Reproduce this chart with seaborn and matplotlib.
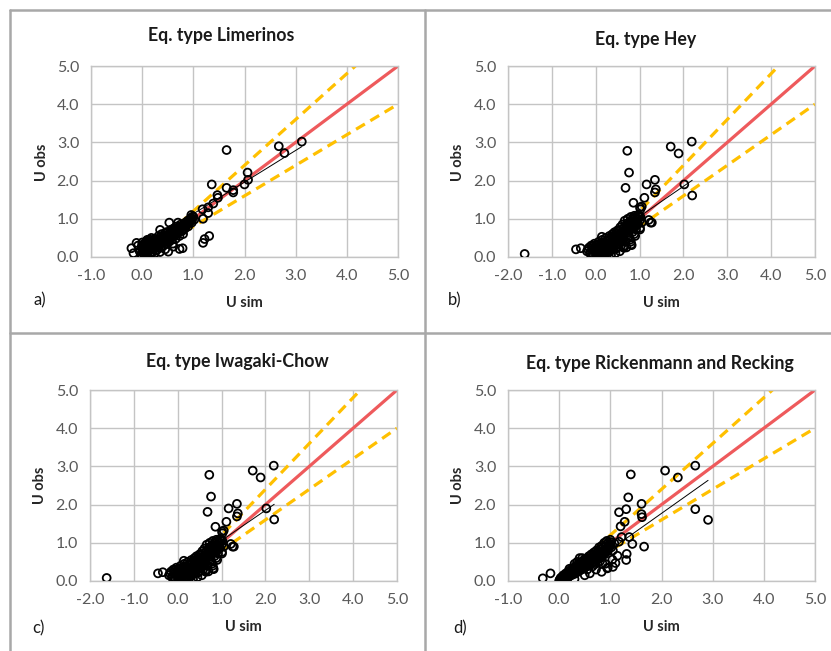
import numpy as np
import pandas as pd
import matplotlib
matplotlib.use("Agg")
import matplotlib.pyplot as plt
from matplotlib.lines import Line2D
import seaborn as sns

sns.set_theme(style="white")
plt.rcParams['font.family'] = ['Lato', 'DejaVu Sans']

# ---------------- data ----------------
titles = ["Eq. type Limerinos", "Eq. type Hey", "Eq. type Iwagaki-Chow",
          "Eq. type Rickenmann and Recking"]
panel_letters = ["a)", "b)", "c)", "d)"]
x_mins = [-1, -2, -2, -1]
x_ticks_a = [-1.0, 0.0, 1.0, 2.0, 3.0, 4.0, 5.0]
x_ticks_b = [-2.0, -1.0, 0.0, 1.0, 2.0, 3.0, 4.0, 5.0]
y_ticks = [0.0, 1.0, 2.0, 3.0, 4.0, 5.0]

# Panel a (Limerinos)
a_sim = [1.65, 2.67, 2.78, 3.12, 2.06, 2.07, 2.00, 1.36, 1.65, 1.78, 1.78, 1.47, 1.48, 1.39, 1.29,
         1.18, 1.29, 1.19, 1.31, 1.22, 1.19, 0.99, 0.96, 0.53, 0.70, 0.79, 0.73, 0.51, 0.35, 0.61,
         -0.21, -0.11, -0.17, 0.35,
         0.00, 0.02, 0.03, 0.05, 0.05, 0.07, 0.08, 0.10, 0.10, 0.12, 0.13, 0.15, 0.15, 0.17, 0.18,
         0.20, 0.20, 0.22, 0.24, 0.25, 0.26, 0.28, 0.30, 0.30, 0.32, 0.33, 0.35, 0.36, 0.38, 0.40,
         0.40, 0.42, 0.44, 0.45, 0.47, 0.48, 0.50, 0.52, 0.53, 0.55, 0.56, 0.58, 0.60, 0.62, 0.63,
         0.65, 0.66, 0.68, 0.70, 0.72, 0.73, 0.75, 0.77, 0.78, 0.80, 0.82, 0.84, 0.86, 0.88, 0.90,
         0.92, 0.95, 0.97, 1.00, 1.02, -0.05, -0.08, -0.02, 0.08, 0.25, 0.45, 0.60, 0.18, 0.10,
         0.04, 0.12, 0.22, 0.34, 0.46, 0.57, 0.67, 0.74, 0.83, 0.91, 0.14, 0.27, 0.38, 0.50]
a_obs = [2.80, 2.90, 2.72, 3.02, 2.21, 2.02, 1.90, 1.90, 1.81, 1.75, 1.69, 1.62, 1.55, 1.40, 1.30,
         1.25, 1.15, 1.00, 0.55, 0.47, 0.37, 1.06, 1.10, 0.90, 0.90, 0.23, 0.21, 0.14, 0.13, 0.27,
         0.23, 0.37, 0.10, 0.71,
         0.02, 0.10, 0.25, 0.05, 0.35, 0.18, 0.30, 0.08, 0.22, 0.40, 0.15, 0.28, 0.05, 0.35, 0.20,
         0.12, 0.42, 0.30, 0.22, 0.48, 0.36, 0.18, 0.40, 0.28, 0.55, 0.33, 0.45, 0.25, 0.60, 0.38,
         0.50, 0.30, 0.55, 0.42, 0.65, 0.35, 0.50, 0.60, 0.40, 0.70, 0.52, 0.45, 0.62, 0.75, 0.55,
         0.68, 0.48, 0.80, 0.62, 0.72, 0.55, 0.85, 0.68, 0.78, 0.60, 0.88, 0.75, 0.82, 0.92, 0.80,
         0.95, 1.02, 0.90, 1.05, 0.98, 0.15, 0.30, 0.05, 0.00, 0.10, 0.20, 0.35, 0.50, 0.45,
         0.15, 0.25, 0.35, 0.45, 0.52, 0.63, 0.70, 0.77, 0.82, 0.90, 0.30, 0.40, 0.48, 0.58]
a_sim_more = [0.01, 0.06, 0.09, 0.11, 0.14, 0.16, 0.19, 0.21, 0.23, 0.27, 0.29, 0.31, 0.34, 0.37,
              0.39, 0.41, 0.43, 0.46, 0.49, 0.51, 0.54, 0.57, 0.59, 0.61, 0.64, 0.67, 0.69, 0.71,
              0.74, 0.76, 0.79, 0.81, 0.83, 0.85, 0.87, 0.89, 0.91, 0.93, 0.96, 0.98, 0.03, 0.07,
              0.13, 0.24, 0.30, 0.36, 0.44, 0.52, 0.58, 0.66, 0.72, 0.80, -0.01, 0.00, 0.09, 0.16]
a_obs_more = [0.18, 0.28, 0.12, 0.32, 0.22, 0.10, 0.30, 0.25, 0.38, 0.28, 0.45, 0.35, 0.30, 0.42,
              0.48, 0.44, 0.38, 0.50, 0.45, 0.55, 0.50, 0.58, 0.55, 0.68, 0.62, 0.70, 0.66, 0.78,
              0.74, 0.80, 0.72, 0.82, 0.80, 0.90, 0.86, 0.95, 0.88, 0.98, 0.95, 1.00, 0.08, 0.40,
              0.30, 0.42, 0.20, 0.52, 0.62, 0.45, 0.72, 0.58, 0.65, 0.70, 0.28, 0.38, 0.42, 0.45]

# Panel b (Hey) and c (Iwagaki-Chow)
b_sim = [-1.62, -0.45, -0.34, 0.72, 0.76, 0.68, 0.86, 1.05, 1.02, 1.11, 1.16, 1.35, 1.37, 1.35,
         1.71, 1.89, 2.19, 2.02, 2.20, 1.25, 1.21, 1.01, 0.81, 0.64, 0.14, 1.01, 1.28, 1.01, 0.82,
         0.63,
         -0.20, -0.15, -0.12, -0.10, -0.08, -0.05, -0.03, 0.00, 0.00, 0.02, 0.04, 0.05, 0.07, 0.08,
         0.10, 0.12, 0.13, 0.15, 0.16, 0.18, 0.20, 0.21, 0.23, 0.25, 0.26, 0.28, 0.30, 0.31, 0.33,
         0.35, 0.36, 0.38, 0.40, 0.41, 0.43, 0.45, 0.46, 0.48, 0.50, 0.51, 0.53, 0.55, 0.56, 0.58,
         0.60, 0.61, 0.63, 0.65, 0.66, 0.68, 0.70, 0.71, 0.73, 0.75, 0.76, 0.78, 0.80, 0.82, 0.84,
         0.86, 0.88, 0.90, 0.92, 0.94, 0.97, 1.00, 0.55, 0.45, 0.35, 0.25, 0.70, 0.80, 0.90,
         -0.02, 0.06, 0.11, 0.19, 0.27, 0.33, 0.42, 0.52, 0.59, 0.67, 0.74, 0.83, 0.95, 0.98]
b_obs = [0.08, 0.20, 0.23, 2.78, 2.21, 1.81, 1.42, 1.32, 1.25, 1.55, 1.90, 2.02, 1.77, 1.69,
         2.89, 2.71, 3.02, 1.90, 1.61, 0.90, 0.97, 0.72, 0.33, 0.24, 0.53, 1.30, 0.90, 0.76, 0.31,
         0.27,
         0.15, 0.25, 0.08, 0.30, 0.18, 0.05, 0.35, 0.12, 0.25, 0.02, 0.30, 0.15, 0.40, 0.08,
         0.22, 0.32, 0.05, 0.45, 0.15, 0.28, 0.10, 0.38, 0.50, 0.20, 0.32, 0.12, 0.45, 0.55, 0.25,
         0.38, 0.18, 0.60, 0.30, 0.48, 0.65, 0.40, 0.22, 0.55, 0.70, 0.35, 0.60, 0.48, 0.78, 0.30,
         0.65, 0.85, 0.52, 0.75, 0.95, 0.40, 0.62, 0.88, 1.00, 0.72, 0.55, 0.92, 1.05, 0.80, 0.65,
         0.98, 1.08, 0.85, 0.72, 1.00, 1.10, 0.95, 0.15, 0.10, 0.05, 0.02, 0.25, 0.40, 0.55,
         0.20, 0.10, 0.28, 0.22, 0.25, 0.35, 0.45, 0.45, 0.58, 0.68, 0.80, 0.88, 0.88, 1.05]
b_sim_more = [-0.18, -0.13, -0.07, -0.01, 0.01, 0.03, 0.06, 0.09, 0.11, 0.14, 0.17, 0.19, 0.22,
              0.24, 0.27, 0.29, 0.32, 0.34, 0.37, 0.39, 0.42, 0.44, 0.47, 0.49, 0.52, 0.54, 0.57,
              0.59, 0.62, 0.64, 0.67, 0.69, 0.72, 0.74, 0.77, 0.79, 0.81, 0.83, 0.85, 0.87, 0.89,
              0.91, 0.93, 0.96, 0.99, 0.05, 0.15, 0.22, 0.32, 0.40, 0.50, 0.60, 0.66, 0.78, 0.88,
              0.95, 1.02, 1.05]
b_obs_more = [0.20, 0.12, 0.28, 0.20, 0.32, 0.10, 0.22, 0.35, 0.15, 0.28, 0.38, 0.20, 0.30,
              0.42, 0.25, 0.35, 0.48, 0.30, 0.45, 0.55, 0.35, 0.52, 0.62, 0.45, 0.55, 0.68, 0.50,
              0.62, 0.75, 0.60, 0.70, 0.82, 0.68, 0.85, 0.78, 0.95, 0.90, 0.75, 1.02, 0.92, 0.78,
              1.05, 0.90, 1.00, 1.05, 0.05, 0.05, 0.12, 0.15, 0.20, 0.25, 0.40, 0.30, 0.45, 0.60,
              0.85, 1.05, 0.90]
c_sim = b_sim + b_sim_more
c_obs = b_obs + b_obs_more

# Panel d (Rickenmann and Recking)
d_sim = [-0.32, -0.17, 1.40, 2.07, 2.32, 2.66, 2.66, 2.91, 1.35, 1.31, 1.17, 1.61, 1.61, 1.62,
         1.28, 1.20, 1.66, 1.43, 1.31, 1.10, 1.05, 0.83, 0.94, 1.04, 1.32, 1.37, 1.22, 1.17, 1.14,
         0.00, 0.02, 0.04, 0.05, 0.07, 0.08, 0.10, 0.11, 0.13, 0.14, 0.16, 0.18, 0.19, 0.21, 0.23,
         0.24, 0.26, 0.28, 0.29, 0.31, 0.33, 0.34, 0.36, 0.38, 0.39, 0.41, 0.43, 0.44, 0.46, 0.48,
         0.49, 0.51, 0.53, 0.54, 0.56, 0.58, 0.59, 0.61, 0.63, 0.64, 0.66, 0.68, 0.69, 0.71, 0.73,
         0.74, 0.76, 0.78, 0.79, 0.81, 0.83, 0.84, 0.86, 0.88, 0.89, 0.91, 0.93, 0.95, 0.97, 1.00,
         1.02, 1.05, 0.60, 0.72, 0.90, 0.95, 0.50, 0.30, 0.45, 0.35,
         0.12, 0.22, 0.32, 0.42, 0.52, 0.62, 0.70, 0.77, 0.85, 0.92, 0.98, 1.08]
d_obs = [0.07, 0.20, 2.79, 2.89, 2.71, 3.02, 1.88, 1.60, 2.19, 1.88, 1.80, 2.02, 1.75, 1.67,
         1.55, 1.43, 0.90, 0.97, 0.55, 0.47, 0.37, 0.24, 0.33, 0.56, 0.71, 1.15, 1.15, 1.03, 0.66,
         0.00, 0.05, 0.02, 0.10, 0.06, 0.15, 0.04, 0.12, 0.20, 0.08, 0.16, 0.25, 0.12, 0.20, 0.30,
         0.15, 0.25, 0.35, 0.18, 0.28, 0.40, 0.22, 0.32, 0.45, 0.26, 0.38, 0.50, 0.30, 0.42, 0.55,
         0.35, 0.47, 0.58, 0.38, 0.52, 0.65, 0.42, 0.56, 0.70, 0.46, 0.60, 0.75, 0.50, 0.65, 0.80,
         0.55, 0.70, 0.88, 0.60, 0.75, 0.92, 0.65, 0.80, 1.00, 0.70, 0.85, 1.05, 0.78, 0.92, 1.08,
         0.88, 0.80, 0.20, 0.30, 0.45, 0.35, 0.15, 0.05, 0.60, 0.50,
         0.10, 0.18, 0.30, 0.35, 0.42, 0.50, 0.62, 0.65, 0.72, 0.78, 0.95, 0.98]
d_sim_more = [0.01, 0.03, 0.06, 0.09, 0.12, 0.15, 0.17, 0.20, 0.22, 0.25, 0.27, 0.30, 0.32, 0.35,
              0.37, 0.40, 0.42, 0.45, 0.47, 0.50, 0.52, 0.55, 0.57, 0.60, 0.62, 0.65, 0.67, 0.70,
              0.72, 0.75, 0.77, 0.80, 0.82, 0.85, 0.87, 0.90, 0.92, 0.94, 0.96, 0.99, 1.01, 0.40,
              0.30, 0.20, 0.55, 0.65, 0.80, 0.85, 0.70]
d_obs_more = [0.03, 0.08, 0.02, 0.10, 0.07, 0.13, 0.20, 0.16, 0.24, 0.20, 0.30, 0.24, 0.34, 0.28,
              0.38, 0.32, 0.44, 0.36, 0.48, 0.40, 0.52, 0.45, 0.58, 0.50, 0.62, 0.55, 0.68, 0.58,
              0.72, 0.62, 0.78, 0.68, 0.84, 0.72, 0.90, 0.78, 0.95, 0.84, 1.00, 0.90, 1.02, 0.60,
              0.45, 0.32, 0.30, 0.38, 0.52, 0.45, 0.44]

# trend lines (slope, intercept)
trend_slope = [0.83, 0.79, 0.79, 0.95]
trend_intercept = [0.30, 0.27, 0.27, -0.13]
trend_start = [1.0, 0.9, 0.9, 1.0]

# reference lines: 1:1, +20 %, -20 %
ref_x = [0.0, 5.0]
ref_factors = [1.0, 1.2, 0.8]

panels = [(a_sim + a_sim_more, a_obs + a_obs_more),
          (b_sim + b_sim_more, b_obs + b_obs_more),
          (c_sim, c_obs),
          (d_sim + d_sim_more, d_obs + d_obs_more)]

# ---------------- layout ----------------
W, H = 831, 651
fig = plt.figure(figsize=(W / 100, H / 100), dpi=100)
fig.patch.set_facecolor("white")

def rect(x0, x1, y0, y1):
    return [x0 / W, 1 - y1 / H, (x1 - x0) / W, (y1 - y0) / H]

def fx(px):
    return px / W

def fy(py):
    return 1 - py / H

ax_boxes = [(91, 398, 66, 257), (508, 815, 66, 257), (90, 397, 390, 581), (508, 815, 390, 581)]
title_pos = [(221, 36), (646, 40), (237, 362), (660, 363)]
xlabel_pos = [(244, 303), (661, 303), (243, 627), (661, 627)]
ylabel_pos = [(42, 162), (458, 162), (40, 485), (458, 485)]
letter_pos = [(40, 300), (455, 300), (38, 628), (460, 628)]

grid_col = "#c4c4c4"
tick_col = "#595959"
red = "#ee5a5c"
yellow = "#ffc000"

for i, (xs, ys) in enumerate(panels):
    ax = fig.add_axes(rect(*ax_boxes[i]))
    df = pd.DataFrame({"U sim": xs, "U obs": ys})
    # reference lines
    ax.plot(ref_x, [ref_factors[0] * v for v in ref_x], color=red, lw=2.3, zorder=2,
            solid_capstyle="butt")
    for f in ref_factors[1:]:
        ax.plot(ref_x, [f * v for v in ref_x], color=yellow, lw=2.3, zorder=2,
                dashes=(3.2, 2.0))
    # trend line
    tx = [trend_start[i], max(xs)]
    ax.plot(tx, [trend_slope[i] * v + trend_intercept[i] for v in tx], color="black",
            lw=0.7, zorder=3)
    sns.scatterplot(data=df, x="U sim", y="U obs", ax=ax, marker="o", s=32,
                    facecolor="none", edgecolor="black", linewidth=1.3, zorder=4,
                    legend=False)
    ax.set_xlim(x_mins[i], 5)
    ax.set_ylim(0, 5)
    xt = x_ticks_a if x_mins[i] == -1 else x_ticks_b
    ax.set_xticks(xt)
    ax.set_yticks(y_ticks)
    ax.set_xticklabels([f"{v:.1f}" for v in xt])
    ax.set_yticklabels([f"{v:.1f}" for v in y_ticks])
    ax.grid(True, color=grid_col, lw=1.0, zorder=0)
    ax.set_axisbelow(True)
    for s in ax.spines.values():
        s.set_color(grid_col)
        s.set_linewidth(1.0)
    ax.tick_params(axis="both", direction="out", length=3.5, width=1.0, color=grid_col,
                   labelcolor=tick_col, labelsize=11.5)
    ax.tick_params(axis="x", pad=5)
    ax.tick_params(axis="y", pad=5)
    ax.set_xlabel("")
    ax.set_ylabel("")
    fig.text(fx(title_pos[i][0]), fy(title_pos[i][1]), titles[i], ha="center", va="center",
             fontsize=12.8, fontweight="bold", color="#1a1a1a")
    fig.text(fx(xlabel_pos[i][0]), fy(xlabel_pos[i][1]), "U sim", ha="center", va="center",
             fontsize=10.5, fontweight="bold", color="#262626")
    fig.text(fx(ylabel_pos[i][0]), fy(ylabel_pos[i][1]), "U obs", ha="center", va="center",
             fontsize=10.5, fontweight="bold", color="#262626", rotation=90)
    fig.text(fx(letter_pos[i][0]), fy(letter_pos[i][1]), panel_letters[i], ha="center",
             va="center", fontsize=12, color="#1a1a1a")

# panel frames
frame_col = "#a8a8a8"
for (x0, y0, x1, y1) in [(10, 10, 831, 10), (10, 10, 10, 651), (425, 10, 425, 651),
                         (10, 333, 831, 333)]:
    fig.add_artist(Line2D([fx(x0), fx(x1)], [fy(y0), fy(y1)], color=frame_col, lw=1.8))

fig.savefig("out.png", dpi=100, facecolor="white")
